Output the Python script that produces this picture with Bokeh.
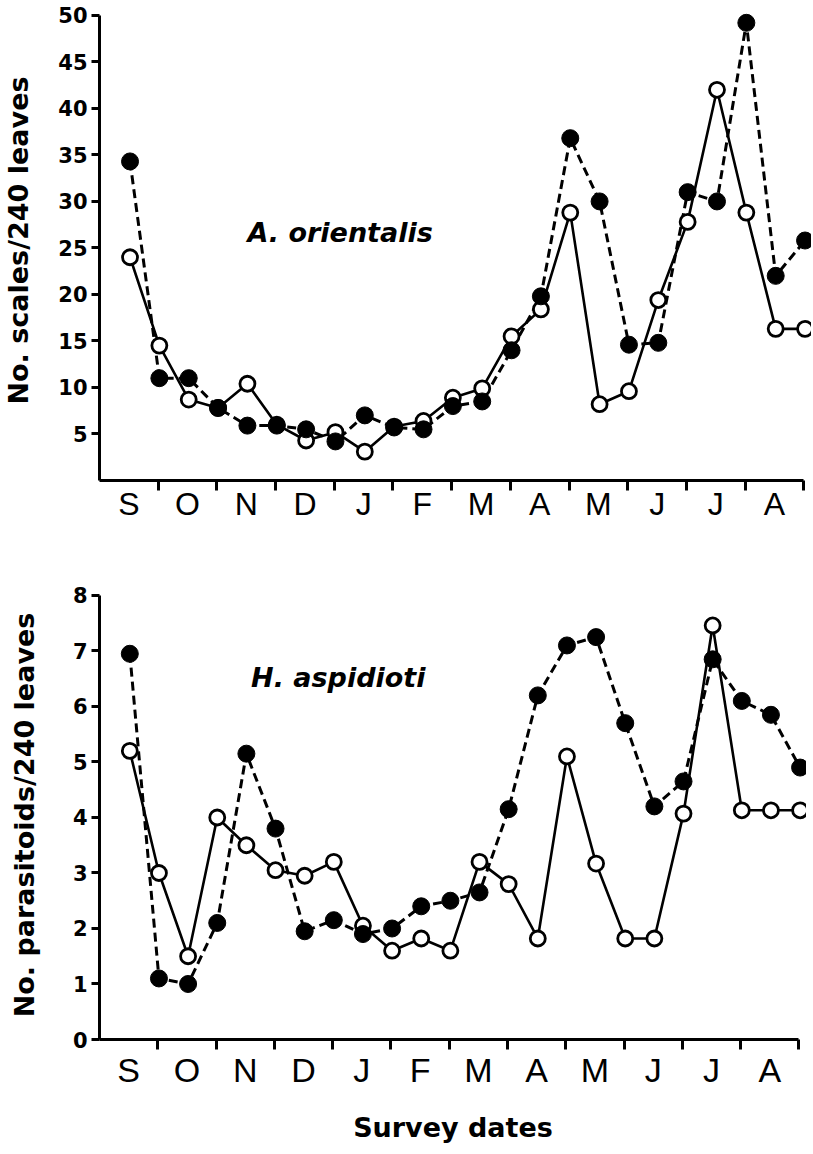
from bokeh.plotting import figure
from bokeh.layouts import column
from bokeh.models import Range1d, FixedTicker, Label, Arrow
from bokeh.embed import file_html
from bokeh.resources import INLINE

# ---- data -------------------------------------------------------------
months = ["S", "O", "N", "D", "J", "F", "M", "A", "M", "J", "J", "A"]

# Top panel: A. orientalis (scales / 240 leaves), two fortnightly series
scales_filled = [34.3, 11.0, 11.0, 7.8, 5.9, 5.9, 5.5, 4.2, 7.0, 5.7, 5.5, 8.0,
                 8.5, 14.0, 19.8, 36.8, 30.0, 14.6, 14.8, 31.0, 30.0, 49.2, 22.0, 25.8]
scales_open = [24.0, 14.5, 8.7, 7.8, 10.4, 6.0, 4.3, 5.2, 3.1, 5.8, 6.4, 8.9,
               9.9, 15.5, 18.4, 28.8, 8.2, 9.6, 19.4, 27.8, 42.0, 28.8, 16.3, 16.3]

# Bottom panel: H. aspidioti (parasitoids / 240 leaves)
paras_filled = [6.95, 1.1, 1.0, 2.1, 5.15, 3.8, 1.95, 2.15, 1.9, 2.0, 2.4, 2.5,
                2.65, 4.15, 6.2, 7.1, 7.25, 5.7, 4.2, 4.65, 6.85, 6.1, 5.85, 4.9]
paras_open = [5.2, 3.0, 1.5, 4.0, 3.5, 3.05, 2.95, 3.2, 2.05, 1.6, 1.82, 1.6,
              3.2, 2.8, 1.82, 5.1, 3.17, 1.82, 1.82, 4.07, 7.46, 4.13, 4.13, 4.13]

scale_ticks = [5, 10, 15, 20, 25, 30, 35, 40, 45, 50]
para_ticks = [0, 1, 2, 3, 4, 5, 6, 7, 8]

# two surveys per month
survey_x = [0.52 + 0.5 * i for i in range(len(scales_filled))]
month_centres = [k + 0.5 for k in range(len(months))]
month_bounds = [k + 1 for k in range(len(months))]

BOLD = "DejaVu Sans"
REG = "Liberation Sans"


def make_panel(filled, opened, yticks, y_end, y_bounds, title, title_x, title_y,
               ylabel, width, height, min_left, min_top, min_bottom, ylabel_standoff,
               month_size, month_standoff, brk, xlabel=None):
    p = figure(width=width, height=height,
               x_range=Range1d(0, 12.13), y_range=Range1d(0, y_end),
               output_backend="svg", toolbar_location=None,
               min_border_left=min_left, min_border_right=0,
               min_border_top=min_top, min_border_bottom=min_bottom)
    p.outline_line_color = None
    p.xgrid.visible = False
    p.ygrid.visible = False
    p.background_fill_color = "white"
    p.border_fill_color = "white"

    p.line(survey_x, filled, line_dash="9 5", line_width=3, color="black")
    p.line(survey_x, opened, line_width=2.6, color="black")
    p.scatter(survey_x, opened, size=15, fill_color="white",
              line_color="black", line_width=2.8)
    p.scatter(survey_x, filled, size=17, fill_color="black",
              line_color="black", line_width=1)

    xa = p.xaxis[0]
    xa.ticker = FixedTicker(ticks=month_centres, minor_ticks=month_bounds)
    xa.major_label_overrides = {c: m for c, m in zip(month_centres, months)}
    xa.bounds = (0, 12)
    xa.axis_line_width = 3
    xa.major_tick_out = 0
    xa.major_tick_in = 0
    xa.minor_tick_in = 0
    xa.minor_tick_out = 10
    xa.minor_tick_line_width = 3
    xa.major_label_text_font = REG
    xa.major_label_text_font_size = f"{month_size}px"
    xa.major_label_text_color = "black"
    xa.major_label_standoff = month_standoff
    if xlabel:
        xa.axis_label = xlabel
        xa.axis_label_text_font = BOLD
        xa.axis_label_text_font_style = "bold"
        xa.axis_label_text_font_size = "27px"
        xa.axis_label_text_color = "black"
        xa.axis_label_standoff = 20

    ya = p.yaxis[0]
    ya.ticker = FixedTicker(ticks=yticks)
    ya.bounds = y_bounds
    ya.axis_line_width = 3
    ya.major_tick_out = 8
    ya.major_tick_in = 0
    ya.major_tick_line_width = 3
    ya.minor_tick_out = 0
    ya.minor_tick_in = 0
    ya.major_label_text_font = BOLD
    ya.major_label_text_font_style = "bold"
    ya.major_label_text_font_size = "21px"
    ya.major_label_text_color = "black"
    ya.major_label_standoff = 4
    ya.axis_label = ylabel
    ya.axis_label_text_font = BOLD
    ya.axis_label_text_font_style = "bold"
    ya.axis_label_text_font_size = "27px"
    ya.axis_label_text_color = "black"
    ya.axis_label_standoff = ylabel_standoff

    # small axis-break stroke at the origin corner
    p.add_layout(Arrow(end=None, x_start=0, y_start=0, x_end=brk[0], y_end=brk[1],
                       line_width=3, line_color="black"))

    p.add_layout(Label(x=title_x, y=title_y, text=title, text_font=BOLD,
                       text_font_style="bold italic", text_font_size="27px",
                       text_color="black", text_baseline="alphabetic"))
    return p


top = make_panel(scales_filled, scales_open, scale_ticks, 51.6, (0, 50),
                 "A. orientalis", 2.52, 26.7, "No. scales/240 leaves",
                 width=811, height=568, min_left=98, min_top=0, min_bottom=88,
                 ylabel_standoff=21, month_size=32, month_standoff=-5,
                 brk=(-0.22, -1.4))

bottom = make_panel(paras_filled, paras_open, para_ticks, 8.09, (0, 8),
                    "H. aspidioti", 2.6, 6.53, "No. parasitoids/240 leaves",
                    width=806, height=578, min_left=93, min_top=22, min_bottom=107,
                    ylabel_standoff=30, month_size=34, month_standoff=1,
                    brk=(-0.26, -0.32), xlabel="Survey dates")

layout = column(top, bottom, spacing=0)
open("out.html", "w").write(file_html(layout, INLINE))
